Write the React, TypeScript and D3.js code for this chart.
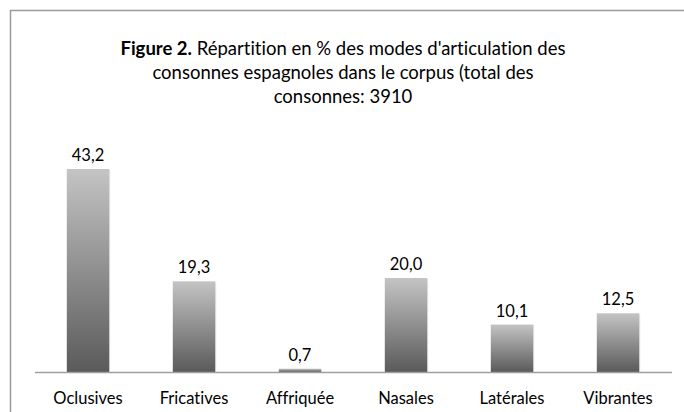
import React from 'react';
import * as d3 from 'd3';

// modes d'articulation, % du total des consonnes
const categories = ['Oclusives', 'Fricatives', 'Affriquée', 'Nasales', 'Latérales', 'Vibrantes'];
const values = [43.2, 19.3, 0.7, 20.0, 10.1, 12.5];
const titleLines = [
  "Répartition en % des modes d'articulation des",
  'consonnes espagnoles dans le corpus (total des',
  'consonnes: 3910',
];

const W = 684;
const H = 412;
const font = 'Lato, "Open Sans", sans-serif';
const txtStyle = { fontVariantLigatures: 'none' } as React.CSSProperties;

export default function App() {
  const x = d3.scaleBand().domain(categories).range([35, 671]).paddingInner(0.6).paddingOuter(0.3);
  const y = d3.scaleLinear().domain([0, 43.2]).range([372, 169]);
  const fmt = (v: number) => d3.format('.1f')(v).replace('.', ',');

  return (
    <svg width={W} height={H} style={{ position: 'absolute', left: 0, top: 0, background: '#fff' }}>
      <defs>
        <linearGradient id="barGrad" x1="0" y1="0" x2="0" y2="1">
          <stop offset="0%" stopColor="#c4c4c4" />
          <stop offset="100%" stopColor="#5a5a5a" />
        </linearGradient>
      </defs>
      <rect x={10.5} y={10.5} width={W} height={H} fill="#fff" stroke="#9a9a9a" strokeWidth={1.5} />

      <text x={343} y={55} textAnchor="middle" fontFamily={font} fontSize={18.5} fill="#000" style={txtStyle}>
        <tspan fontWeight="bold">Figure 2.</tspan> {titleLines[0]}
      </text>
      {titleLines.slice(1).map((t, i) => (
        <text key={i} x={343} y={79 + i * 24} textAnchor="middle" fontFamily={font} fontSize={18.5} fill="#000" style={txtStyle}>
          {t}
        </text>
      ))}

      {categories.map((c, i) => (
        <g key={c}>
          <rect
            x={x(c)! + 1}
            y={y(values[i]) + 1}
            width={x.bandwidth()}
            height={372 - y(values[i])}
            fill="#e6e6e6"
          />
          <rect
            x={x(c)}
            y={y(values[i])}
            width={x.bandwidth()}
            height={372 - y(values[i])}
            fill="url(#barGrad)"
          />
          <text
            x={x(c)! + x.bandwidth() / 2}
            y={y(values[i]) - 8}
            textAnchor="middle"
            fontFamily={font}
            fontSize={16.5}
            fill="#000"
            style={txtStyle}
          >
            {fmt(values[i])}
          </text>
          <text
            x={x(c)! + x.bandwidth() / 2}
            y={404}
            textAnchor="middle"
            fontFamily={font}
            fontSize={16.5}
            fill="#000"
            style={txtStyle}
          >
            {c}
          </text>
        </g>
      ))}
      <line x1={35} x2={672} y1={372.5} y2={372.5} stroke="#a0a0a0" strokeWidth={1.5} />
    </svg>
  );
}
